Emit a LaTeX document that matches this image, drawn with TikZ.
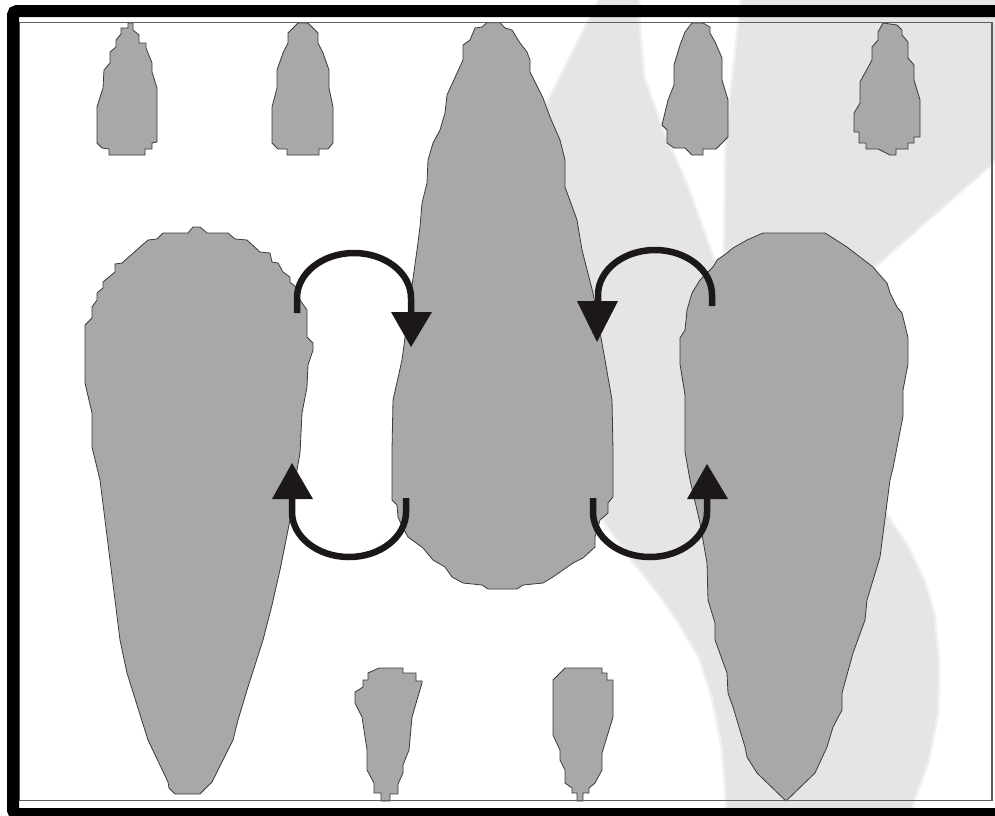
\documentclass[tikz,border=0pt]{standalone}
\definecolor{dropgray}{HTML}{A8A8A8}
\definecolor{wmgray}{HTML}{E5E5E5}
\definecolor{wmsoft}{HTML}{F0F0F0}
\definecolor{outl}{HTML}{3A3A3A}
\definecolor{arrowblk}{HTML}{1C1818}
\definecolor{framegray}{HTML}{5E5E5E}
\begin{document}
\begin{tikzpicture}[x=1pt,y=-1pt,
  dropshape/.style={fill=dropgray,draw=outl,line width=0.8pt,line join=miter},
  arcstroke/.style={draw=arrowblk,line width=6.5pt,line cap=butt,line join=round},
  tipfill/.style={fill=arrowblk},
  wmark/.style={fill=wmgray,draw=wmsoft,line width=5pt,line join=round}]
\useasboundingbox (0,0) rectangle (995,815);
\fill[white] (0,0) rectangle (995,815);
\begin{scope}
\clip (0,0) rectangle (995,815);
% background watermark
\path[wmark] (600,0) -- (638,0) -- (638,20) -- (643,77) -- (663,133) -- (687,187) -- (713,260) -- (722,290) -- (725,260) -- (727,133) -- (740,20) -- (742,0) -- (995,0) -- (995,160) -- (873,267) -- (850,330) -- (860,450) -- (887,517) -- (907,547) -- (923,580) -- (933,613) -- (938,663) -- (937,713) -- (927,763) -- (913,800) -- (910,815) -- (728,815) -- (727,800) -- (723,747) -- (713,697) -- (700,657) -- (680,623) -- (657,590) -- (633,560) -- (600,515) -- (520,450) -- (500,250) -- (548,103) -- (590,20) -- cycle;
\fill[wmgray] (600,0) -- (638,0) -- (638,20) -- (643,77) -- (663,133) -- (687,187) -- (713,260) -- (722,290) -- (725,260) -- (727,133) -- (740,20) -- (742,0) -- (995,0) -- (995,160) -- (873,267) -- (850,330) -- (860,450) -- (887,517) -- (907,547) -- (923,580) -- (933,613) -- (938,663) -- (937,713) -- (927,763) -- (913,800) -- (910,815) -- (728,815) -- (727,800) -- (723,747) -- (713,697) -- (700,657) -- (680,623) -- (657,590) -- (633,560) -- (600,515) -- (520,450) -- (500,250) -- (548,103) -- (590,20) -- cycle;

% big central drop
\draw[dropshape] (487,22.7) -- (500,22.7) -- (505,28) -- (512,30) -- (520,43) -- (527,52) -- (530,60) -- (530,72) -- (543,98) -- (550,117) -- (560,140) -- (565,160) -- (565,187) -- (577,220) -- (582,250) -- (593,293) -- (605,360) -- (612,400) -- (613,450) -- (613,497) -- (608,503) -- (608,513) -- (600,520) -- (595,537) -- (595,547) -- (583,558) -- (573,563) -- (553,577) -- (543,583) -- (523,585) -- (517,589) -- (488,589) -- (482,585) -- (463,583) -- (452,577) -- (445,567) -- (433,560) -- (423,548) -- (408,537) -- (403,528) -- (398,517) -- (397,505) -- (392,500) -- (392,450) -- (393,400) -- (402,360) -- (410,300) -- (417,250) -- (420,227) -- (422,203) -- (427,183) -- (428,160) -- (433,143) -- (440,130) -- (445,113) -- (447,95) -- (463,60) -- (463,45) -- (470,40) -- (475,28) -- (482,27) -- cycle;

% big left drop
\draw[dropshape] (193,227) -- (200,227) -- (207,233) -- (228,233) -- (235,239) -- (247,240) -- (260,252) -- (270,253) -- (272,262) -- (278,263) -- (283,272) -- (290,277) -- (290,282) -- (297,288) -- (300,300) -- (307,310) -- (307,337) -- (313,343) -- (313,350) -- (308,365) -- (307,387) -- (302,413) -- (300,453) -- (297,470) -- (290,520) -- (280,570) -- (272,605) -- (263,640) -- (247,690) -- (238,720) -- (233,740) -- (212,782) -- (200,794) -- (175,794) -- (169,788) -- (168,782) -- (148,740) -- (127,673) -- (120,640) -- (110,560) -- (100,480) -- (92,447) -- (92,413) -- (85,383) -- (85,325) -- (92,318) -- (92,307) -- (97,300) -- (97,293) -- (103,288) -- (103,282) -- (115,272) -- (115,264) -- (122,263) -- (140,247) -- (148,240) -- (157,239) -- (163,233) -- (188,233) -- cycle;

% big right drop
\draw[dropshape] (763,233) -- (825,233) -- (833,238) -- (847,247) -- (860,257) -- (873,267) -- (878,273) -- (887,283) -- (890,293) -- (897,307) -- (902,313) -- (905,325) -- (908,338) -- (908,364) -- (903,390) -- (903,416) -- (893,468) -- (890,480) -- (880,557) -- (867,600) -- (865,620) -- (853,653) -- (842,693) -- (842,710) -- (833,727) -- (827,747) -- (815,773) -- (786,801) -- (757,773) -- (747,757) -- (745,747) -- (733,707) -- (728,693) -- (727,673) -- (715,640) -- (715,623) -- (708,600) -- (707,563) -- (700,523) -- (690,480) -- (685,452) -- (685,395) -- (680,364) -- (680,338) -- (685,330) -- (687,310) -- (692,293) -- (700,280) -- (707,273) -- (713,267) -- (717,260) -- (727,253) -- (733,248) -- (747,240) -- cycle;

% small top drops
\draw[dropshape] (128,23) -- (133,23) -- (133,30) -- (139,35) -- (139,43) -- (146,43) -- (146,48) -- (152,63) -- (152,72) -- (157,88) -- (157,142) -- (152,143) -- (152,149) -- (145,149) -- (145,155) -- (109,155) -- (109,149) -- (102,148) -- (97,143) -- (97,107) -- (103,88) -- (104,70) -- (110,63) -- (110,52) -- (116,47) -- (116,40) -- (121,34) -- (121,28) -- (128,28) -- cycle;
\draw[dropshape] (298,23) -- (308,23) -- (313,28) -- (318,33) -- (318,43) -- (323,53) -- (329,70) -- (329,88) -- (333,107) -- (333,143) -- (328,149) -- (319,149) -- (319,155) -- (287,155) -- (287,149) -- (278,149) -- (272,143) -- (272,107) -- (277,88) -- (277,70) -- (283,53) -- (288,43) -- (288,33) -- (293,28) -- cycle;
\draw[dropshape] (692,23) -- (703,23) -- (710,27) -- (710,33) -- (715,42) -- (722,58) -- (722,80) -- (728,100) -- (728,137) -- (716,149) -- (703,149) -- (703,155) -- (692,155) -- (685,148) -- (674,148) -- (667,143) -- (667,130) -- (662,125) -- (668,100) -- (674,85) -- (674,65) -- (680,45) -- (685,32) -- cycle;
\draw[dropshape] (883,23) -- (897,25) -- (902,30) -- (902,35) -- (908,42) -- (908,58) -- (914,65) -- (914,80) -- (920,100) -- (920,137) -- (914,137) -- (914,143) -- (908,143) -- (908,149) -- (896,149) -- (896,155) -- (890,155) -- (878,149) -- (866,149) -- (866,143) -- (859,143) -- (859,132) -- (854,132) -- (854,113) -- (860,103) -- (860,82) -- (872,60) -- (872,47) -- (878,40) -- (878,32) -- cycle;

% small bottom drops
\draw[dropshape] (379,668) -- (403,668) -- (403,673) -- (416,673) -- (416,681) -- (422,681) -- (422,683) -- (412,717) -- (409,750) -- (403,765) -- (403,773) -- (398,784) -- (398,794) -- (390,794) -- (390,801) -- (381,801) -- (381,793) -- (374,793) -- (374,783) -- (367,770) -- (367,750) -- (362,717) -- (355,703) -- (355,692) -- (363,687) -- (363,680) -- (368,680) -- (368,673) -- cycle;
\draw[dropshape] (565,668) -- (602,668) -- (602,673) -- (607,673) -- (607,680) -- (613,680) -- (613,717) -- (602,753) -- (602,770) -- (595,783) -- (589,788) -- (589,793) -- (583,793) -- (583,801) -- (577,801) -- (577,793) -- (572,793) -- (572,788) -- (565,783) -- (565,770) -- (560,760) -- (560,750) -- (553,735) -- (553,680) -- cycle;

% circulating arrows
\coordinate (ulS) at (297,313);
\coordinate (ulE) at (411,313);
\coordinate (urS) at (712,306);
\coordinate (urE) at (598,302);
\coordinate (llS) at (406,498);
\coordinate (llE) at (292,499);
\coordinate (lrS) at (593,498);
\coordinate (lrE) at (707,499);
\draw[arcstroke] (ulS) -- (297,298) arc[start angle=180,end angle=360,x radius=57,y radius=45] -- (ulE);
\fill[tipfill] (391,312) -- (432,312) -- (411,347) -- cycle;
\draw[arcstroke] (urS) -- (712,295) arc[start angle=0,end angle=-180,x radius=57,y radius=45] -- (urE);
\fill[tipfill] (577,301) -- (618,301) -- (597,342) -- cycle;
\draw[arcstroke] (llS) -- (406,512) arc[start angle=0,end angle=180,x radius=57,y radius=45] -- (llE);
\fill[tipfill] (272,499) -- (313,499) -- (292,463) -- cycle;
\draw[arcstroke] (lrS) -- (593,512) arc[start angle=180,end angle=0,x radius=57,y radius=45] -- (lrE);
\fill[tipfill] (687,499) -- (728,499) -- (707,464) -- cycle;

% frames
\draw[framegray,line width=1.2pt] (19.3,22.7) rectangle (992,800.7);
\draw[black,line width=12pt,rounded corners=4pt] (13,11) rectangle (1010,814);
\end{scope}
\end{tikzpicture}
\end{document}
